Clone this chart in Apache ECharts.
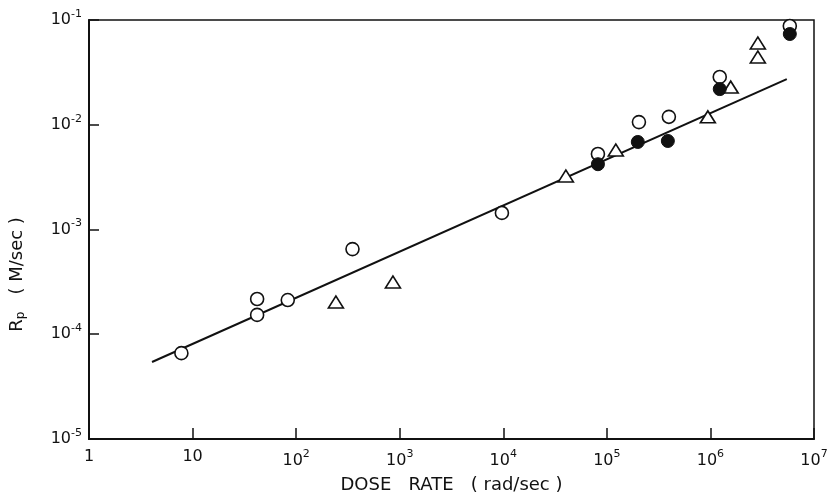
<!DOCTYPE html>
<html>
<head>
<meta charset="utf-8">
<script src="https://cdn.jsdelivr.net/npm/echarts@6/dist/echarts.min.js"></script>
<style>
  html, body { margin: 0; padding: 0; background: #fff; }
  #main { width: 832px; height: 500px; }
</style>
</head>
<body>
<div id="main"></div>
<script>
// dose rate (rad/sec) vs Rp (M/sec)
var openX = [7.8, 42, 42, 83, 350, 9700, 82000, 204000, 397000, 1230000, 5840000];
var openY = [6.6e-5, 2.17e-4, 1.53e-4, 2.12e-4, 6.5e-4, 1.44e-3, 5.26e-3, 1.06e-2, 1.19e-2, 2.86e-2, 8.77e-2];

var fillX = [82000, 199000, 388000, 1230000, 5840000];
var fillY = [4.2e-3, 6.85e-3, 7.0e-3, 2.19e-2, 7.35e-2];

var triX = [242, 860, 40200, 122000, 944000, 1570000, 2870000, 2870000];
var triY = [2.03e-4, 3.15e-4, 3.24e-3, 5.74e-3, 1.19e-2, 2.29e-2, 6.03e-2, 4.43e-2];

// fitted line, two ends
var fitX = [4.06, 5460000];
var fitY = [5.43e-5, 0.0273];

var xTicks = ['1', '10', '10{s|2}', '10{s|3}', '10{s|4}', '10{s|5}', '10{s|6}', '10{s|7}'];
var yTicks = ['10{s|-5}', '10{s|-4}', '10{s|-3}', '10{s|-2}', '10{s|-1}'];

function zip(a, b) {
    var out = [];
    for (var i = 0; i < a.length; i++) out.push([a[i], b[i]]);
    return out;
}

var font = 'DejaVu Sans';
var ink = '#111';
var supStyle = {
    s: { fontSize: 11, fontFamily: font, color: ink, padding: [0, 0, 12, 0] }
};

var chart = echarts.init(document.getElementById('main'));

option = {
    animation: false,
    backgroundColor: '#fff',
    grid: {
        left: 89, right: 18, top: 20, bottom: 61,
        outerBoundsMode: 'none',
        containLabel: false,
        show: true,
        borderColor: ink,
        borderWidth: 1.5
    },
    xAxis: {
        type: 'log',
        logBase: 10,
        min: 1,
        max: 1e7,
        name: 'DOSE   RATE   ( rad/sec )',
        nameLocation: 'middle',
        nameGap: 37,
        nameTextStyle: { fontFamily: font, fontSize: 18, color: ink },
        axisLine: { lineStyle: { color: ink, width: 2 } },
        axisTick: { inside: true, length: 11, lineStyle: { color: ink, width: 1.5 } },
        minorTick: { show: false },
        splitLine: { show: false },
        axisLabel: {
            margin: 10,
            fontFamily: font,
            fontSize: 16,
            color: ink,
            rich: supStyle,
            formatter: function (v) {
                return xTicks[Math.round(Math.log10(v))];
            }
        }
    },
    yAxis: {
        type: 'log',
        logBase: 10,
        min: 1e-5,
        max: 1e-1,
        name: 'R{p|p}   ( M/sec )',
        nameLocation: 'middle',
        nameRotate: 90,
        nameGap: 62,
        nameTextStyle: {
            fontFamily: font, fontSize: 18, color: ink,
            padding: [0, 90, 0, 0],
            rich: { p: { fontSize: 12, fontFamily: font, color: ink, padding: [8, 0, 0, 0] } }
        },
        axisLine: { lineStyle: { color: ink, width: 2 } },
        axisTick: { inside: true, length: 10, lineStyle: { color: ink, width: 1.5 } },
        minorTick: { show: false },
        splitLine: { show: false },
        axisLabel: {
            margin: 7,
            fontFamily: font,
            fontSize: 16,
            color: ink,
            rich: supStyle,
            formatter: function (v) {
                return yTicks[Math.round(Math.log10(v)) + 5];
            }
        }
    },
    series: [
        {
            type: 'line',
            data: zip(fitX, fitY),
            symbol: 'none',
            lineStyle: { color: ink, width: 2 },
            z: 1
        },
        {
            type: 'scatter',
            data: zip(openX, openY),
            symbol: 'circle',
            symbolSize: 13,
            itemStyle: { color: '#fff', borderColor: ink, borderWidth: 1.6, opacity: 1 },
            z: 2
        },
        {
            type: 'scatter',
            data: zip(fillX, fillY),
            symbol: 'circle',
            symbolSize: 13,
            itemStyle: { color: ink, borderColor: ink, borderWidth: 1, opacity: 1 },
            z: 3
        },
        {
            type: 'scatter',
            data: zip(triX, triY),
            symbol: 'triangle',
            symbolSize: [15, 12],
            itemStyle: { color: '#fff', borderColor: ink, borderWidth: 1.6, opacity: 1 },
            z: 2
        }
    ]
};

chart.setOption(option);
</script>
</body>
</html>
